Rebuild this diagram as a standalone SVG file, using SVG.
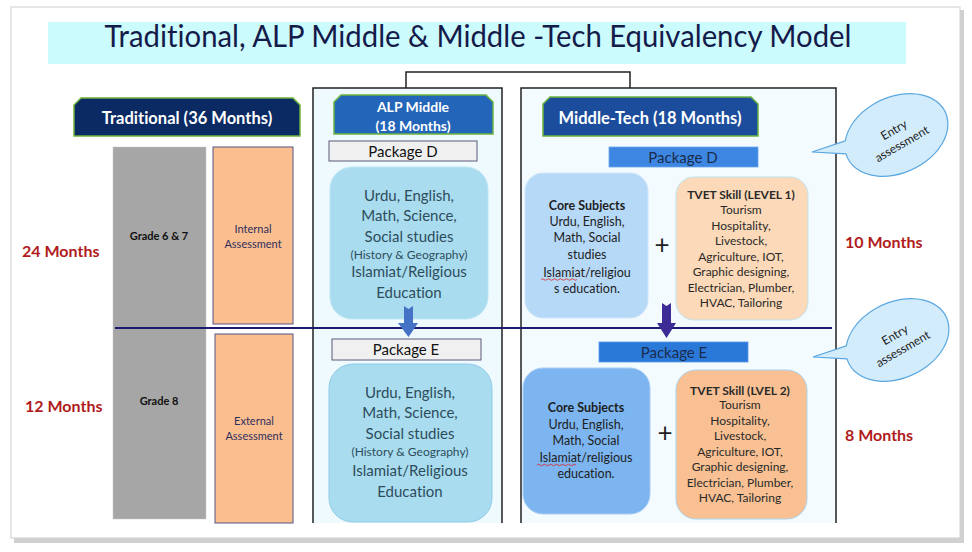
<svg xmlns="http://www.w3.org/2000/svg" width="972" height="552" viewBox="0 0 972 552">
<style>
  text { font-family: Lato, "Open Sans", "Liberation Sans", sans-serif; font-variant-ligatures: none; }
  .hdr { fill: #ffffff; font-weight: bold; text-anchor: middle; }
  .hdrbox { stroke: #6cb33f; stroke-width: 1.5; }
  .subj { font-size: 15px; fill: #2e4d5c; text-anchor: middle; }
  .subjsm { font-size: 12px; fill: #2e4d5c; text-anchor: middle; }
  .core { font-size: 12.5px; fill: #1e1e1e; text-anchor: middle; }
  .tvet { font-size: 12px; fill: #2a2a2a; text-anchor: middle; }
  .b { font-weight: bold; }
  .months { font-size: 16px; font-weight: bold; fill: #b01c1c; }
  .pkg { font-size: 15px; fill: #111111; text-anchor: middle; }
  .grade { font-size: 11px; font-weight: bold; fill: #111111; text-anchor: middle; }
  .assess { font-size: 11px; fill: #2e2e5e; text-anchor: middle; }
  .frame { fill: none; stroke: #222222; stroke-width: 1.5; }
  .bubble { fill: #d3ecfb; stroke: #5aa7e0; stroke-width: 1.2; }
  .btxt { font-size: 12px; fill: #222222; text-anchor: middle; }
  .orange { fill: #fbbf8f; stroke: #55558a; stroke-width: 1; }
</style>

<!-- slide background with shadow -->
<rect x="14" y="10" width="950" height="533" fill="#b0b0b0" opacity="0.6"/>
<rect x="11" y="7" width="949" height="531" fill="#ffffff" stroke="#d0d0d0" stroke-width="1"/>

<!-- title -->
<g id="title">
  <rect x="48" y="22" width="858" height="42" fill="#ccfbfd"/>
  <text x="478" y="47" font-size="30" fill="#141a4a" text-anchor="middle" textLength="747" lengthAdjust="spacingAndGlyphs">Traditional, ALP Middle &amp; Middle -Tech Equivalency Model</text>
</g>

<!-- frames -->
<g id="alp-frame">
  <rect x="313" y="88" width="189" height="435" fill="#effafe"/>
  <path class="frame" d="M313,523 V88 H502 V523"/>
</g>
<g id="tech-frame">
  <rect x="521" y="88" width="315" height="435" fill="#f4fbff"/>
  <path class="frame" d="M521,523 V88 H836 V523"/>
</g>

<!-- connectors -->
<g id="connectors">
  <path d="M406,88 V72 H630 V88" fill="none" stroke="#222222" stroke-width="1.5"/>
</g>

<!-- Traditional column -->
<g id="traditional-header">
  <path class="hdrbox" d="M81,98 H293 L300,105 V136 H74 V105 Z" fill="#0b2a63"/>
  <text class="hdr" x="187" y="124" font-size="16.5">Traditional (36 Months)</text>
</g>
<g id="grade-box">
  <rect x="113" y="147" width="93" height="372" fill="#a6a6a6" stroke="#c8c8c8" stroke-width="0.5"/>
  <text class="grade" x="159" y="240">Grade 6 &amp; 7</text>
  <text class="grade" x="159" y="405">Grade 8</text>
</g>
<g id="internal-assessment">
  <rect class="orange" x="213" y="147" width="80" height="177"/>
  <text class="assess" x="253" y="233">Internal</text>
  <text class="assess" x="253" y="248">Assessment</text>
</g>
<g id="external-assessment">
  <rect class="orange" x="215" y="334" width="78" height="189"/>
  <text class="assess" x="254" y="425">External</text>
  <text class="assess" x="254" y="440">Assessment</text>
</g>
<g id="months-left">
  <text class="months" x="22" y="257">24 Months</text>
  <text class="months" x="25" y="412">12 Months</text>
</g>

<!-- ALP Middle column -->
<g id="alp-header">
  <path class="hdrbox" d="M341,95 H486 L493,102 V134 H334 V102 Z" fill="#2365b8"/>
  <text class="hdr" x="413" y="112" font-size="14">ALP Middle</text>
  <text class="hdr" x="413" y="131" font-size="14">(18 Months)</text>
</g>
<g id="alp-package-d">
  <rect x="329" y="141" width="148" height="20" fill="#f0f0f0" stroke="#5a5a7a" stroke-width="1"/>
  <text class="pkg" x="403" y="156.5">Package D</text>
</g>
<g id="alp-subjects-d">
  <rect x="330" y="167" width="158" height="152" rx="22" fill="#a9dcef" stroke="#bfe6f4" stroke-width="1"/>
  <text class="subj" x="409" y="201">Urdu, English,</text>
  <text class="subj" x="409" y="221">Math, Science,</text>
  <text class="subj" x="409" y="242">Social studies</text>
  <text class="subjsm" x="409" y="259">(History &amp; Geography)</text>
  <text class="subj" x="409" y="277">Islamiat/Religious</text>
  <text class="subj" x="409" y="298">Education</text>
</g>
<g id="alp-package-e">
  <rect x="332" y="339" width="149" height="21" fill="#f0f0f0" stroke="#5a5a7a" stroke-width="1"/>
  <text class="pkg" x="406" y="355">Package E</text>
</g>
<g id="alp-subjects-e">
  <rect x="329" y="364" width="163" height="158" rx="24" fill="#a9dcef" stroke="#8fcbe9" stroke-width="1"/>
  <text class="subj" x="410" y="398">Urdu, English,</text>
  <text class="subj" x="410" y="418">Math, Science,</text>
  <text class="subj" x="410" y="439">Social studies</text>
  <text class="subjsm" x="410" y="456">(History &amp; Geography)</text>
  <text class="subj" x="410" y="476">Islamiat/Religious</text>
  <text class="subj" x="410" y="497">Education</text>
</g>

<!-- Middle-Tech column -->
<g id="tech-header">
  <path class="hdrbox" d="M550,97 H751 L758,104 V136 H543 V104 Z" fill="#1b4d9c"/>
  <text class="hdr" x="650" y="123.5" font-size="16.5">Middle-Tech (18 Months)</text>
</g>
<g id="tech-package-d">
  <rect x="609" y="147" width="149" height="20" fill="#3d87e2" stroke="#6aa6ea" stroke-width="0.8"/>
  <text class="pkg" x="683" y="162.5" style="fill:#1a2c4c">Package D</text>
</g>
<g id="core-d">
  <rect x="525" y="173" width="123" height="145" rx="18" fill="#b6d9f8" stroke="#cfe6fb" stroke-width="1"/>
  <text class="core b" x="587" y="209.5">Core Subjects</text>
  <text class="core" x="587" y="225.5">Urdu, English,</text>
  <text class="core" x="587" y="241.5">Math, Social</text>
  <text class="core" x="587" y="258.5">studies</text>
  <text class="core" x="587" y="276.5">Islamiat/religiou</text>
  <text class="core" x="587" y="292.5">s education.</text>
  <path d="M541,279.5 q1.5,-1.5 3,0 t3,0 t3,0 t3,0 t3,0 t3,0 t3,0 t3,0 t3,0 t3,0 t3,0 t3,0" fill="none" stroke="#e02020" stroke-width="0.8"/>
</g>
<text x="662" y="254" font-size="26" fill="#1e1e1e" text-anchor="middle" font-family="'Liberation Sans', sans-serif">+</text>
<g id="tvet-d">
  <rect x="676" y="177" width="132" height="143" rx="18" fill="#fcd9b8" stroke="#bfe3ef" stroke-width="1"/>
  <text class="tvet b" x="741" y="199">TVET Skill (LEVEL 1)</text>
  <text class="tvet" x="741" y="214">Tourism</text>
  <text class="tvet" x="741" y="230">Hospitality,</text>
  <text class="tvet" x="741" y="245">Livestock,</text>
  <text class="tvet" x="741" y="261">Agriculture, IOT,</text>
  <text class="tvet" x="741" y="276">Graphic designing,</text>
  <text class="tvet" x="741" y="292">Electrician, Plumber,</text>
  <text class="tvet" x="741" y="307">HVAC, Tailoring</text>
</g>
<g id="tech-package-e">
  <rect x="599" y="342" width="149" height="20" fill="#2a79d9" stroke="#5a9ae6" stroke-width="0.8"/>
  <text class="pkg" x="674" y="357.5" style="fill:#1a2c4c">Package E</text>
</g>
<g id="core-e">
  <rect x="523" y="368" width="127" height="146" rx="20" fill="#7cb5ef" stroke="#a9cdf3" stroke-width="1"/>
  <text class="core b" x="586" y="412">Core Subjects</text>
  <text class="core" x="586" y="429">Urdu, English,</text>
  <text class="core" x="586" y="445">Math, Social</text>
  <text class="core" x="586" y="462">Islamiat/religious</text>
  <text class="core" x="586" y="478">education.</text>
  <path d="M537,465 q1.5,-1.5 3,0 t3,0 t3,0 t3,0 t3,0 t3,0 t3,0 t3,0 t3,0 t3,0 t3,0 t3,0 t3,0" fill="none" stroke="#e02020" stroke-width="0.8"/>
</g>
<text x="665" y="442" font-size="26" fill="#1e1e1e" text-anchor="middle" font-family="'Liberation Sans', sans-serif">+</text>
<g id="tvet-e">
  <rect x="676" y="370" width="131" height="149" rx="20" fill="#f9c193" stroke="#a9d3ef" stroke-width="1"/>
  <text class="tvet b" x="740" y="395">TVET Skill (LVEL 2)</text>
  <text class="tvet" x="740" y="409">Tourism</text>
  <text class="tvet" x="740" y="425">Hospitality,</text>
  <text class="tvet" x="740" y="440">Livestock,</text>
  <text class="tvet" x="740" y="456">Agriculture, IOT,</text>
  <text class="tvet" x="740" y="471">Graphic designing,</text>
  <text class="tvet" x="740" y="487">Electrician, Plumber,</text>
  <text class="tvet" x="740" y="502">HVAC, Tailoring</text>
</g>

<!-- divider line and arrows -->
<g id="divider">
  <line x1="115" y1="328" x2="832" y2="328" stroke="#1c1a6e" stroke-width="2"/>
</g>
<g id="arrow-alp">
  <path d="M404,306 L408.5,309 L413,306 V323 H418 L408.5,337 L398,323 H404 Z" fill="#4472c4"/>
</g>
<g id="arrow-tech">
  <path d="M662,303 L666.5,306 L671,303 V323 H676 L666.5,338 L657,323 H662 Z" fill="#3d2b96"/>
</g>

<!-- right labels -->
<g id="months-right">
  <text class="months" x="845" y="248">10 Months</text>
  <text class="months" x="845" y="441">8 Months</text>
</g>

<!-- callouts -->
<g id="callout-1">
  <path class="bubble" d="M845.3,140.9 L812,152 L846,153.9 A54 38 -25 1 0 845.3,140.9 Z"/>
  <g transform="translate(898,137) rotate(-30)">
    <text class="btxt" x="0" y="-4">Entry</text>
    <text class="btxt" x="0" y="12">assessment</text>
  </g>
</g>
<g id="callout-2" transform="translate(1,205)">
  <path class="bubble" d="M845.3,140.9 L812,152 L846,153.9 A54 38 -25 1 0 845.3,140.9 Z"/>
  <g transform="translate(898,137) rotate(-30)">
    <text class="btxt" x="0" y="-4">Entry</text>
    <text class="btxt" x="0" y="12">assessment</text>
  </g>
</g>
</svg>
